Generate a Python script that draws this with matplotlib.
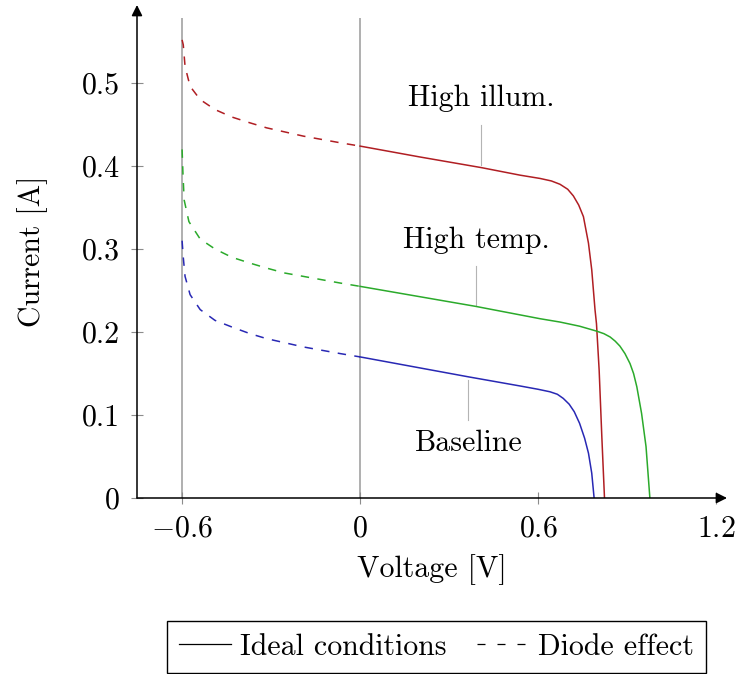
import matplotlib
matplotlib.use("Agg")
import matplotlib.pyplot as plt
from matplotlib.lines import Line2D

plt.rcParams["font.family"] = "cmr10"
plt.rcParams["mathtext.fontset"] = "cm"
plt.rcParams["axes.unicode_minus"] = False
plt.rcParams["font.size"] = 21.5

# I-V curves: dashed part (reverse bias, diode effect) and solid part (ideal)
base_dash_v = [-0.600, -0.596, -0.590, -0.573, -0.539, -0.489, -0.432, -0.371, -0.315, -0.253, -0.191, -0.129, -0.067, 0.0]
base_dash_i = [0.310, 0.290, 0.267, 0.245, 0.227, 0.214, 0.206, 0.198, 0.192, 0.187, 0.182, 0.178, 0.174, 0.170]
base_v = [0.0, 0.365, 0.539, 0.600, 0.640, 0.665, 0.685, 0.705, 0.722, 0.740, 0.757, 0.770, 0.781, 0.789]
base_i = [0.170, 0.146, 0.135, 0.131, 0.128, 0.125, 0.120, 0.113, 0.104, 0.090, 0.072, 0.054, 0.030, 0.0]

temp_dash_v = [-0.600, -0.597, -0.593, -0.577, -0.539, -0.489, -0.432, -0.371, -0.315, -0.253, -0.191, -0.129, -0.067, 0.0]
temp_dash_i = [0.420, 0.390, 0.359, 0.333, 0.312, 0.300, 0.290, 0.283, 0.277, 0.271, 0.267, 0.263, 0.259, 0.255]
temp_v = [0.0, 0.388, 0.607, 0.674, 0.740, 0.798, 0.822, 0.843, 0.860, 0.876, 0.893, 0.910, 0.922, 0.933, 0.949, 0.964, 0.977]
temp_i = [0.255, 0.231, 0.216, 0.212, 0.207, 0.201, 0.198, 0.194, 0.189, 0.183, 0.174, 0.162, 0.150, 0.134, 0.102, 0.062, 0.0]

illum_dash_v = [-0.600, -0.596, -0.590, -0.573, -0.539, -0.489, -0.432, -0.371, -0.315, -0.253, -0.191, -0.129, -0.067, 0.0]
illum_dash_i = [0.552, 0.546, 0.520, 0.496, 0.480, 0.468, 0.459, 0.452, 0.446, 0.441, 0.436, 0.432, 0.428, 0.424]
illum_v = [0.0, 0.200, 0.410, 0.539, 0.607, 0.645, 0.674, 0.700, 0.719, 0.737, 0.753, 0.770, 0.781, 0.792, 0.797, 0.806, 0.815, 0.824]
illum_i = [0.424, 0.411, 0.398, 0.389, 0.385, 0.382, 0.378, 0.372, 0.364, 0.353, 0.339, 0.307, 0.275, 0.227, 0.210, 0.154, 0.074, 0.0]

x_ticks = [-0.6, 0.0, 0.6, 1.2]
x_tick_labels = ["$-0.6$", "$0$", "$0.6$", "$1.2$"]
y_ticks = [0.0, 0.1, 0.2, 0.3, 0.4, 0.5]
y_tick_labels = ["0", "0.1", "0.2", "0.3", "0.4", "0.5"]
ref_voltages = [-0.6, 0.0]

RED = "#B01E23"
GREEN = "#2BAA2B"
BLUE = "#2828B4"

fig = plt.figure(figsize=(7.42, 6.74), dpi=100)
ax = fig.add_axes([137 / 742, 1 - 498 / 674, (727 - 137) / 742, (498 - 5) / 674])
ax.set_xlim(-0.752, 1.237)
ax.set_ylim(0, 0.594)

# reference voltage lines
ax.vlines(ref_voltages, 0, 0.578, color="#9a9a9a", lw=1.1, zorder=1)

lw = 1.1
dash = (5.5, 5.5)
for dv, di, v, i, c in [
    (illum_dash_v, illum_dash_i, illum_v, illum_i, RED),
    (temp_dash_v, temp_dash_i, temp_v, temp_i, GREEN),
    (base_dash_v, base_dash_i, base_v, base_i, BLUE),
]:
    ax.plot(dv, di, color=c, lw=lw, dashes=dash, zorder=3)
    ax.plot(v, i, color=c, lw=lw, zorder=3, solid_joinstyle="round")

# pin annotations
pins = [
    ("High illum.", 0.408, 0.401, 0.449, 0.482),
    ("High temp.", 0.391, 0.2325, 0.2795, 0.311),
    ("Baseline", 0.365, 0.142, 0.094, 0.066),
]
for label, xv, y0, y1, yt in pins:
    ax.plot([xv, xv], [y0, y1], color="#b4b4b4", lw=0.8, zorder=2)
    ax.text(xv, yt, label, ha="center", va="center", fontsize=21.5)

# axis lines with arrow heads
for s in ax.spines.values():
    s.set_visible(False)
arrow = dict(arrowstyle="-|>", lw=1.1, color="black", mutation_scale=16,
             shrinkA=0, shrinkB=0)
ax.annotate("", xy=(1, 0), xytext=(0, 0), xycoords="axes fraction",
            textcoords="axes fraction", arrowprops=arrow)
ax.annotate("", xy=(0, 1), xytext=(0, 0), xycoords="axes fraction",
            textcoords="axes fraction", arrowprops=arrow)

ax.set_xticks(x_ticks)
ax.set_xticklabels(x_tick_labels)
ax.set_yticks(y_ticks)
ax.set_yticklabels(y_tick_labels)
ax.tick_params(direction="inout", length=9, width=0.8, color="#8c8c8c",
               labelsize=21.5, pad=8)

ax.set_xlabel("Voltage [V]", fontsize=21.5, labelpad=8)
ax.set_ylabel("Current [A]", fontsize=21.5, labelpad=24)

handles = [
    Line2D([], [], color="black", lw=0.9),
    Line2D([], [], color="black", lw=0.9, dashes=(6.4, 9.6)),
]
fig.legend(handles, ["Ideal conditions", "Diode effect"], loc="center",
           bbox_to_anchor=(436.5 / 742, 1 - 647 / 674), ncol=2,
           frameon=True, fancybox=False, edgecolor="black", framealpha=1,
           fontsize=21.5, handlelength=1.75, columnspacing=1.0, handletextpad=0.3,
           borderpad=0.4, borderaxespad=0)
fig.savefig("out.png", dpi=100)
